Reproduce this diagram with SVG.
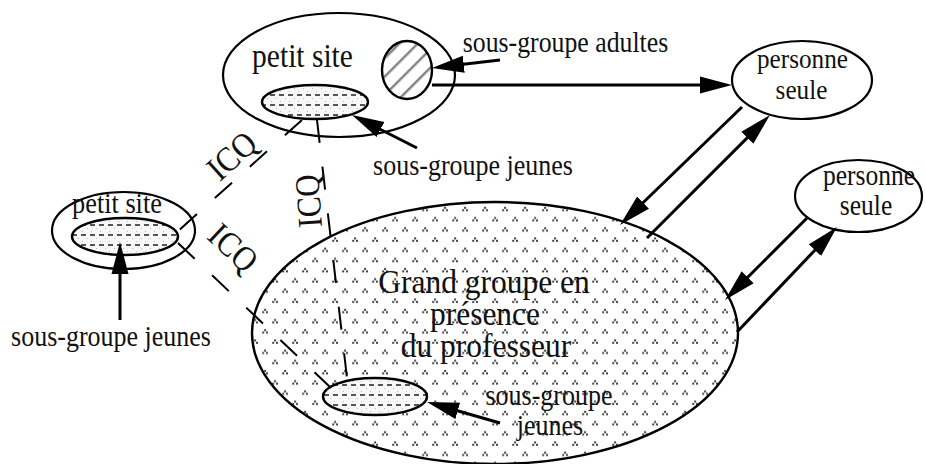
<svg xmlns="http://www.w3.org/2000/svg" width="926" height="464" viewBox="0 0 926 464">
<style>
.ol{fill:#fff;stroke:#000;stroke-width:2.2}
.sg{fill:url(#dash);stroke:#000;stroke-width:2.4}
.t{font-family:'Liberation Serif','Times New Roman',serif;fill:#111;text-anchor:middle}
.arr{stroke:#000;stroke-width:3;fill:none;marker-end:url(#ah)}
.icq{stroke:#000;stroke-width:2;fill:none;stroke-dasharray:23 24}
</style>
<defs>
<marker id="ah" markerUnits="userSpaceOnUse" markerWidth="34" markerHeight="20" refX="22" refY="9" orient="auto">
<path d="M0,0.5 L32,9 L0,17.5 z" fill="#000"/>
</marker>
<pattern id="dots" patternUnits="userSpaceOnUse" width="20" height="20.4">
<rect width="20" height="20.4" fill="#fff"/>
<g fill="#444">
<rect x="4.1" y="2.8" width="2" height="2"/><rect x="2.2" y="5.2" width="2" height="2"/><rect x="6" y="5.2" width="2" height="2"/>
<rect x="14.1" y="13" width="2" height="2"/><rect x="12.2" y="15.4" width="2" height="2"/><rect x="16" y="15.4" width="2" height="2"/>
</g>
</pattern>
<pattern id="dash" patternUnits="userSpaceOnUse" width="9" height="10">
<rect width="9" height="10" fill="#f7f7f7"/>
<rect x="1" y="1" width="1" height="1" fill="#bbb"/><rect x="6" y="8" width="1" height="1" fill="#bbb"/>
<rect x="0" y="4" width="5" height="2" fill="#555"/>
</pattern>
<pattern id="hatch" patternUnits="userSpaceOnUse" width="13" height="13" patternTransform="rotate(45)">
<rect width="13" height="13" fill="#fff"/>
<rect x="0" y="0" width="2.4" height="13" fill="#808080"/>
</pattern>
</defs>

<g id="grand-groupe">
<ellipse cx="495" cy="333" rx="243" ry="131" fill="url(#dots)" stroke="#000" stroke-width="2.4"/>
<text class="t" font-size="31.5" transform="translate(484 293) scale(1 1.1)">Grand groupe en</text>
<text class="t" font-size="31.5" transform="translate(485 325) scale(1 1.1)">présence</text>
<text class="t" font-size="31.5" transform="translate(486 357) scale(1 1.1)">du professeur</text>
</g>

<g id="sous-groupe-jeunes-bas">
<ellipse class="sg" cx="375" cy="396.5" rx="52" ry="18.5"/>
<text class="t" font-size="26" transform="translate(549 405) scale(1 1.12)">sous-groupe</text>
<text class="t" font-size="26" transform="translate(550 435) scale(1 1.12)">jeunes</text>
</g>

<g id="petit-site-haut">
<ellipse class="ol" cx="339" cy="75" rx="116" ry="62"/>
<text class="t" font-size="29.5" transform="translate(302.5 67) scale(1 1.12)">petit site</text>
</g>

<g id="sous-groupe-adultes">
<ellipse cx="407" cy="70" rx="25" ry="29" fill="url(#hatch)" stroke="#000" stroke-width="2.4"/>
<text class="t" font-size="25.8" transform="translate(565.5 52) scale(1 1.12)">sous-groupe adultes</text>
</g>

<g id="sous-groupe-jeunes-haut">
<ellipse class="sg" cx="315" cy="102" rx="53" ry="17"/>
<text class="t" font-size="26" transform="translate(473 175) scale(1 1.12)">sous-groupe jeunes</text>
</g>

<g id="personne-seule-1">
<ellipse class="ol" cx="802" cy="80" rx="70" ry="39"/>
<text class="t" font-size="25.2" transform="translate(802.5 68) scale(1 1.12)">personne</text>
<text class="t" font-size="25.2" transform="translate(801.5 99) scale(1 1.12)">seule</text>
</g>

<g id="personne-seule-2">
<ellipse class="ol" cx="858.5" cy="196" rx="63.5" ry="36"/>
<text class="t" font-size="25.5" transform="translate(869 185) scale(1 1.12)">personne</text>
<text class="t" font-size="25.5" transform="translate(866 215) scale(1 1.12)">seule</text>
</g>

<g id="petit-site-gauche">
<ellipse class="ol" cx="123.5" cy="230.5" rx="71.5" ry="38.5"/>
<text class="t" font-size="26.3" transform="translate(117 213) scale(1 1.12)">petit site</text>
</g>

<g id="sous-groupe-jeunes-gauche">
<ellipse class="sg" cx="125" cy="236.5" rx="53" ry="18.5"/>
<text class="t" font-size="26" transform="translate(111 346) scale(1 1.12)">sous-groupe jeunes</text>
</g>

<g id="connectors">
<line class="icq" x1="302" y1="120" x2="177" y2="232"/>
<line class="icq" x1="317" y1="120" x2="347" y2="378"/>
<line class="icq" x1="178" y1="243" x2="330" y2="387"/>
<line class="arr" x1="500" y1="60" x2="441.9" y2="66.8"/>
<line class="arr" stroke-width="2.2" x1="432" y1="85" x2="722" y2="85"/>
<line class="arr" x1="417" y1="148" x2="360.9" y2="119.5"/>
<line class="arr" x1="120" y1="320" x2="120" y2="252"/>
<line class="arr" x1="500" y1="423" x2="436.6" y2="404.8"/>
<line class="arr" x1="742" y1="107" x2="627.2" y2="218"/>
<line class="arr" x1="647" y1="238" x2="762.9" y2="122.1"/>
<line class="arr" x1="808" y1="217" x2="732.1" y2="292.9"/>
<line class="arr" x1="737" y1="332" x2="830.1" y2="234.2"/>
</g>

<g id="icq-labels">
<text class="t" font-size="31" transform="translate(232 156) rotate(-42) scale(1 1.12) translate(0 10)">ICQ</text>
<text class="t" font-size="31" transform="translate(309 201) rotate(-94) scale(1 1.12) translate(0 10)">ICQ</text>
<text class="t" font-size="31" transform="translate(233 248) rotate(43) scale(1 1.12) translate(0 10)">ICQ</text>
</g>
</svg>
